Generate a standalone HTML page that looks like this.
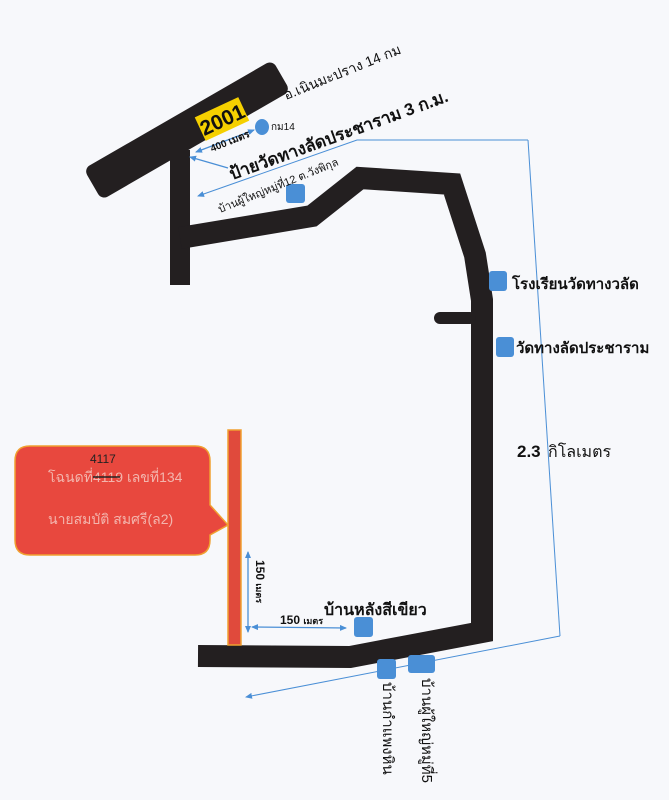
<!DOCTYPE html>
<html><head><meta charset="utf-8"><style>
html,body{margin:0;padding:0;background:#f7f8fb;}
svg{display:block;}
text{font-family:"Liberation Sans","Noto Sans CJK SC",sans-serif;}
</style></head><body>
<svg width="669" height="800" viewBox="0 0 669 800" xmlns="http://www.w3.org/2000/svg">
<defs>
<marker id="a" markerWidth="7" markerHeight="6" refX="6" refY="3" orient="auto" markerUnits="userSpaceOnUse"><path d="M0,0 L7,3 L0,6 z" fill="#4a8fd6"/></marker>
<marker id="s" markerWidth="7" markerHeight="6" refX="1" refY="3" orient="auto" markerUnits="userSpaceOnUse"><path d="M7,0 L0,3 L7,6 z" fill="#4a8fd6"/></marker>
</defs>
<rect width="669" height="800" fill="#f7f8fb"/>
<!-- roads -->
<rect x="78" y="112" width="218" height="36" rx="7" fill="#231f20" transform="rotate(-30 187 130)"/>
<g fill="none" stroke="#231f20" stroke-linejoin="miter">
<line x1="180" y1="150" x2="180" y2="285" stroke-width="20"/>
<polyline points="180,238 312,216 360,178 452,184 475,255 482,300 482,632 350,657 198,656" stroke-width="22"/>
<line x1="440" y1="318" x2="470" y2="318" stroke-width="12" stroke-linecap="round"/>
</g>
<!-- 2001 label -->
<rect x="198" y="106" width="48" height="26" fill="#f5d000" transform="rotate(-25 222 119)"/>
<text x="222" y="127" font-size="21" font-weight="bold" text-anchor="middle" fill="#111" transform="rotate(-25 222 119)">2001</text>
<!-- blue lines -->
<g stroke="#4a8fd6" stroke-width="1" fill="none">
<polyline points="528,140 357,140 198,196" marker-end="url(#a)"/>
<line x1="528" y1="140" x2="560" y2="636"/>
<line x1="560" y1="636" x2="246" y2="697" marker-end="url(#a)"/>
<line x1="254" y1="130" x2="196" y2="152" marker-end="url(#a)" marker-start="url(#s)" stroke-width="1.3"/>
<line x1="228" y1="168" x2="190" y2="157" marker-end="url(#a)" stroke-width="1.3"/>
<line x1="248" y1="552" x2="248" y2="632" marker-end="url(#a)" marker-start="url(#s)" stroke-width="1.3"/>
<line x1="252" y1="627" x2="346" y2="628" marker-end="url(#a)" marker-start="url(#s)" stroke-width="1.3"/>
</g>
<!-- blue markers -->
<g fill="#4a8fd6">
<ellipse cx="262" cy="127" rx="7" ry="8"/>
<rect x="286" y="184" width="19" height="19" rx="3"/>
<rect x="489" y="271" width="18" height="20" rx="3"/>
<rect x="496" y="337" width="18" height="20" rx="3"/>
<rect x="354" y="617" width="19" height="20" rx="3"/>
<rect x="377" y="659" width="19" height="20" rx="3"/>
<rect x="408" y="655" width="27" height="18" rx="3"/>
</g>
<!-- red bar & callout -->
<rect x="228" y="430" width="13" height="215" fill="#e04a3c" stroke="#f0a030" stroke-width="1.5"/>
<path d="M30,446 H195 Q210,446 210,461 V505 L228,525 L210,535 V540 Q210,555 195,555 H30 Q15,555 15,540 V461 Q15,446 30,446 Z" fill="#e8483e" stroke="#f0a030" stroke-width="1.5"/>
<text x="48" y="482" font-size="14" fill="#f3b5ad">โฉนดที่4119 เลขที่134</text>
<line x1="93" y1="477" x2="120" y2="477" stroke="#222" stroke-width="1.5"/>
<text x="90" y="463" font-size="12" fill="#222">4117</text>
<text x="48" y="524" font-size="14" fill="#f3b5ad">นายสมบัติ สมศรี(ล2)</text>
<!-- labels -->
<g fill="#111">
<text x="0" y="0" font-size="14" transform="translate(286,100) rotate(-22)">อ.เนินมะปราง 14 กม</text>
<text x="0" y="0" font-size="17" font-weight="bold" transform="translate(232,180) rotate(-20)">ป้ายวัดทางลัดประชาราม 3 ก.ม.</text>
<text x="0" y="0" font-size="10" font-weight="bold" transform="translate(212,152) rotate(-22)">400 เมตร</text>
<text x="271" y="130" font-size="10">กม14</text>
<text x="0" y="0" font-size="11" transform="translate(220,213) rotate(-22)">บ้านผู้ใหญ่หมู่ที่12  ต.วังพิกุล</text>
<text x="512" y="289" font-size="15" font-weight="bold">โรงเรียนวัดทางวลัด</text>
<text x="516" y="353" font-size="15" font-weight="bold">วัดทางลัดประชาราม</text>
<text x="517" y="457" font-size="17" font-weight="bold">2.3</text>
<text x="548" y="457" font-size="16">กิโลเมตร</text>
<text x="324" y="615" font-size="16" font-weight="bold">บ้านหลังสีเขียว</text>
<text x="280" y="624" font-size="12" font-weight="bold">150 <tspan font-size="9">เมตร</tspan></text>
<text x="0" y="0" font-size="12" font-weight="bold" transform="translate(256,560) rotate(90)">150 <tspan font-size="9">เมตร</tspan></text>
<text x="0" y="0" font-size="15" transform="translate(383,682) rotate(90)">บ้านกำแพงหิน</text>
<text x="0" y="0" font-size="15" transform="translate(422,678) rotate(90)">บ้านผู้ใหญ่หมู่ที่5</text>
</g>
</svg>
</body></html>
